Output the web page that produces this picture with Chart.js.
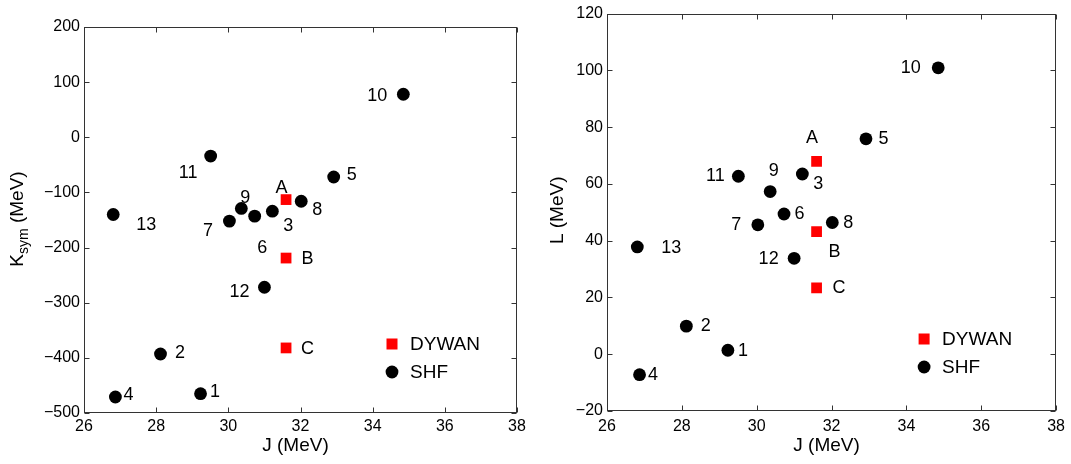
<!DOCTYPE html>
<html>
<head>
<meta charset="utf-8">
<title>Ksym and L versus J</title>
<script src="https://cdn.jsdelivr.net/npm/chart.js@4.4.1/dist/chart.umd.min.js"></script>
<style>
  body { margin: 0; background: #fff; }
  #wrap { position: relative; width: 1071px; height: 464px; }
  canvas { position: absolute; top: 0; }
</style>
</head>
<body>
<div id="wrap">
  <canvas id="ksymChart" width="535" height="464" style="left:0"></canvas>
  <canvas id="lChart" width="536" height="464" style="left:535px"></canvas>
</div>
<script>
// Skyrme-Hartree-Fock parametrisations (numbered) and DYWAN cases A/B/C
const shfNames = ['1', '2', '3', '4', '5', '6', '7', '8', '9', '10', '11', '12', '13'];
const shfJ = [29.23, 28.12, 31.22, 26.87, 32.92, 30.73, 30.03, 32.02, 30.36, 34.85, 29.51, 31.0, 26.81];
const shfKsym = [-465, -393, -134, -471, -72, -143, -152, -116, -129, 78, -34, -272, -140];
const shfL = [1.4, 9.9, 63.5, -7.2, 75.9, 49.4, 45.6, 46.4, 57.3, 100.9, 62.7, 33.8, 37.8];

const dywanNames = ['A', 'B', 'C'];
const dywanJ = [31.6, 31.6, 31.6];
const dywanKsym = [-113, -219, -382];
const dywanL = [67.9, 43.2, 23.4];

const jTicks = [26, 28, 30, 32, 34, 36, 38];
const ksymTicks = [-500, -400, -300, -200, -100, 0, 100, 200];
const lTicks = [-20, 0, 20, 40, 60, 80, 100, 120];

// where each point's name sits relative to its marker, in px [dx, dy]
const ksymLabelPos = {
  dywan: [[-4.5, -12], [21.5, 1], [21.5, 1]],
  shf: [[14.5, -1.5], [19.5, -1], [16, 14.5], [13, -2], [18, -1.5], [7.5, 31.5], [-21.5, 9.5],
        [16, 8.5], [4, -10.5], [-26, 1.5], [-22.5, 17], [-25, 4.5], [33, 11]]
};
const lLabelPos = {
  dywan: [[-4.5, -23], [18, 20.5], [22.5, 0.5]],
  shf: [[15, 0.5], [19.5, 0], [16, 10], [13.5, 0.5], [17.5, 0], [15.5, 0], [-21.5, 0.5],
        [16, 0.5], [3.5, -20.5], [-27.5, 0.5], [-23, 0], [-25.5, 1], [34, 1]]
};

const FONT = "'Liberation Sans', Arial, Helvetica, sans-serif";
Chart.defaults.font.family = FONT;
Chart.defaults.color = '#000';

const minus = v => String(v).replace('-', '\u2212');

// box with inward tick marks, point names, axis titles and legend
function framePlugin(cfg) {
  return {
    id: 'frame',
    afterDatasetsDraw(chart) {
      const { ctx, chartArea: a, scales: { x, y } } = chart;
      ctx.save();

      ctx.strokeStyle = '#333';
      ctx.lineWidth = 1;
      const L = Math.round(a.left) + 0.5, R = Math.round(a.right) - 0.5;
      const T = Math.round(a.top) + 0.5, B = Math.round(a.bottom) - 0.5;
      ctx.strokeRect(L, T, R - L, B - T);
      ctx.beginPath();
      x.ticks.forEach(t => {
        const px = Math.round(x.getPixelForValue(t.value)) + 0.5;
        ctx.moveTo(px, B); ctx.lineTo(px, B - 5);
        ctx.moveTo(px, T); ctx.lineTo(px, T + 5);
      });
      y.ticks.forEach(t => {
        const py = Math.round(y.getPixelForValue(t.value)) + 0.5;
        ctx.moveTo(L, py); ctx.lineTo(L + 5, py);
        ctx.moveTo(R, py); ctx.lineTo(R - 5, py);
      });
      ctx.stroke();

      // point names
      ctx.fillStyle = '#000';
      ctx.font = '18px ' + FONT;
      ctx.textAlign = 'center';
      ctx.textBaseline = 'middle';
      cfg.names.forEach((names, di) => {
        const meta = chart.getDatasetMeta(di);
        meta.data.forEach((pt, i) => {
          const [dx, dy] = cfg.offsets[di][i];
          ctx.fillText(names[i], pt.x + dx, pt.y + dy);
        });
      });

      // legend
      const lx = a.right - cfg.legendRight, ly = a.bottom - cfg.legendBottom;
      ctx.font = '19px ' + FONT;
      ctx.textAlign = 'left';
      chart.data.datasets.forEach((ds, di) => {
        const cy = ly + di * 28;
        ctx.fillStyle = ds.backgroundColor;
        if (ds.pointStyle === 'rect') {
          ctx.fillRect(lx - 5.5, cy - 5.5, 11, 11);
        } else {
          ctx.beginPath();
          ctx.arc(lx, cy, ds.pointRadius, 0, Math.PI * 2);
          ctx.fill();
        }
        ctx.fillStyle = '#000';
        ctx.fillText(ds.label, lx + 18, cy + 1);
      });

      // x title
      ctx.font = '19px ' + FONT;
      ctx.textAlign = 'center';
      ctx.textBaseline = 'alphabetic';
      ctx.fillText('J (MeV)', (a.left + a.right) / 2 - 5, 451);

      // y title, rotated, with optional subscript
      ctx.translate(cfg.yTitleX, (a.top + a.bottom) / 2 + cfg.yTitleShift);
      ctx.rotate(-Math.PI / 2);
      ctx.textAlign = 'left';
      let w = 0;
      cfg.yTitle.forEach(p => { ctx.font = p.size + 'px ' + FONT; w += ctx.measureText(p.text).width; });
      let cx = -w / 2;
      cfg.yTitle.forEach(p => {
        ctx.font = p.size + 'px ' + FONT;
        ctx.fillText(p.text, cx, p.shift || 0);
        cx += ctx.measureText(p.text).width;
      });
      ctx.restore();
    }
  };
}

function makeChart(id, yVals, dywanY, yTicks, frame, box) {
  const toPts = (xs, ys) => xs.map((v, i) => ({ x: v, y: ys[i] }));
  return new Chart(document.getElementById(id), {
    type: 'scatter',
    data: {
      datasets: [
        { label: 'DYWAN', data: toPts(dywanJ, dywanY), pointStyle: 'rect', pointRadius: 7.6,
          backgroundColor: '#ff0000', borderWidth: 0 },
        { label: 'SHF', data: toPts(shfJ, yVals), pointStyle: 'circle', pointRadius: 6.4,
          backgroundColor: '#000000', borderWidth: 0 }
      ]
    },
    options: {
      responsive: false,
      animation: false,
      devicePixelRatio: 1,
      layout: { autoPadding: false, padding: { left: 0, top: box.top, right: box.right, bottom: 0 } },
      plugins: { legend: { display: false }, tooltip: { enabled: false } },
      scales: {
        x: {
          type: 'linear', min: jTicks[0], max: jTicks[jTicks.length - 1],
          afterBuildTicks: s => { s.ticks = jTicks.map(v => ({ value: v })); },
          afterFit: s => { s.height = box.xHeight; },
          grid: { display: false, drawTicks: false },
          border: { display: false },
          ticks: { font: { size: 16 }, padding: box.xPad, maxRotation: 0, callback: minus }
        },
        y: {
          type: 'linear', min: yTicks[0], max: yTicks[yTicks.length - 1],
          afterBuildTicks: s => { s.ticks = yTicks.map(v => ({ value: v })); },
          afterFit: s => { s.width = box.yWidth; },
          grid: { display: false, drawTicks: false },
          border: { display: false },
          ticks: { font: { size: 16 }, padding: 4, callback: minus }
        }
      }
    },
    plugins: [framePlugin(frame)]
  });
}

makeChart('ksymChart', shfKsym, dywanKsym, ksymTicks, {
  names: [dywanNames, shfNames],
  offsets: [ksymLabelPos.dywan, ksymLabelPos.shf],
  legendRight: 125, legendBottom: 69,
  yTitleX: 23, yTitleShift: -1,
  yTitle: [{ text: 'K', size: 19 }, { text: 'sym', size: 14, shift: 5 }, { text: ' (MeV)', size: 19 }]
}, { top: 27, right: 18, xHeight: 51, yWidth: 84, xPad: 4 });

makeChart('lChart', shfL, dywanL, lTicks, {
  names: [dywanNames, shfNames],
  offsets: [lLabelPos.dywan, lLabelPos.shf],
  legendRight: 132, legendBottom: 72,
  yTitleX: 28, yTitleShift: -2,
  yTitle: [{ text: 'L (MeV)', size: 19 }]
}, { top: 11, right: 14, xHeight: 53, yWidth: 72, xPad: 6 });
</script>
</body>
</html>
